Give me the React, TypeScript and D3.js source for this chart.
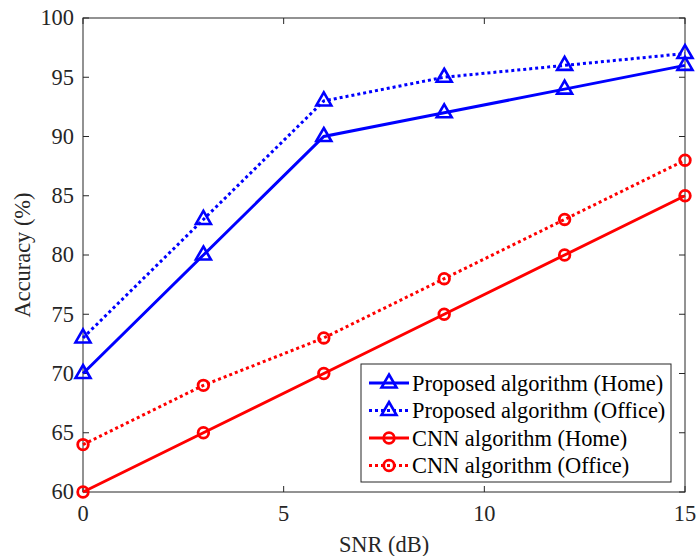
import React from 'react'
import * as d3 from 'd3'

const snr = [0, 3, 6, 9, 12, 15]
const proposedHome = [70, 80, 90, 92, 94, 96]
const proposedOffice = [73, 83, 93, 95, 96, 97]
const cnnHome = [60, 65, 70, 75, 80, 85]
const cnnOffice = [64, 69, 73, 78, 83, 88]
const xTicks = [0, 5, 10, 15]
const yTicks = [60, 65, 70, 75, 80, 85, 90, 95, 100]

const series = [
  { name: 'Proposed algorithm (Home)', values: proposedHome, color: '#0000ff', dotted: false, marker: 'tri' },
  { name: 'Proposed algorithm (Office)', values: proposedOffice, color: '#0000ff', dotted: true, marker: 'tri' },
  { name: 'CNN algorithm (Home)', values: cnnHome, color: '#ff0000', dotted: false, marker: 'circle' },
  { name: 'CNN algorithm (Office)', values: cnnOffice, color: '#ff0000', dotted: true, marker: 'circle' },
]

const W = 696
const H = 556
const margin = { top: 18, right: 11, bottom: 64, left: 83 }
const txt = { fontFamily: "'Liberation Serif', 'Times New Roman', Times, serif" }
const fs = 22.4

const Marker = ({ kind, x, y, color }: { kind: string; x: number; y: number; color: string }) => {
  if (kind === 'tri') {
    return (
      <path d={`M${x},${y - 8.5}L${x + 7.5},${y + 4.5}L${x - 7.5},${y + 4.5}Z`}
        fill="none" stroke={color} strokeWidth={2.6} strokeLinejoin="miter" />
    )
  }
  return <circle cx={x} cy={y} r={5.3} fill="none" stroke={color} strokeWidth={2.8} />
}

export default function App() {
  const x = d3.scaleLinear().domain([0, 15]).range([margin.left, W - margin.right])
  const y = d3.scaleLinear().domain([60, 100]).range([H - margin.bottom, margin.top])
  const line = d3.line<number>().x((_, i) => x(snr[i])).y((d) => y(d))

  const x0 = x(0), x1 = x(15), y0 = y(60), y1 = y(100)
  const tl = 6

  const lg = { x: 361, y: 364, w: 310, h: 118, row: 27.5 }

  return (
    <svg width={W} height={H} style={{ position: 'absolute', left: 0, top: 0, background: '#fff' }}>
      <rect x={0} y={0} width={W} height={H} fill="#fff" />
      {/* axes box */}
      <rect x={x0} y={y1} width={x1 - x0} height={y0 - y1} fill="none" stroke="#262626" strokeWidth={1} />
      {yTicks.map((t) => (
        <g key={'y' + t}>
          <line x1={x0} x2={x0 + tl} y1={y(t)} y2={y(t)} stroke="#262626" />
          <line x1={x1} x2={x1 - tl} y1={y(t)} y2={y(t)} stroke="#262626" />
          <text x={x0 - 9} y={y(t)} dy="0.33em" textAnchor="end" style={txt} fontSize={fs} fill="#262626">{t}</text>
        </g>
      ))}
      {xTicks.map((t) => (
        <g key={'x' + t}>
          <line x1={x(t)} x2={x(t)} y1={y0} y2={y0 - tl} stroke="#262626" />
          <line x1={x(t)} x2={x(t)} y1={y1} y2={y1 + tl} stroke="#262626" />
          <text x={x(t)} y={y0 + 29} textAnchor="middle" style={txt} fontSize={fs} fill="#262626">{t}</text>
        </g>
      ))}
      <text x={x((0 + 15) / 2)} y={552} textAnchor="middle" style={txt} fontSize={fs} fill="#262626">SNR (dB)</text>
      <text transform={`translate(30,${y(80)}) rotate(-90)`} textAnchor="middle" style={txt} fontSize={fs} fill="#262626">Accuracy (%)</text>

      {series.map((s) => (
        <g key={s.name}>
          <path d={line(s.values) || ''} fill="none" stroke={s.color} strokeWidth={3}
            strokeDasharray={s.dotted ? '3,3' : undefined} />
          {s.values.map((v, i) => (
            <Marker key={i} kind={s.marker} x={x(snr[i])} y={y(v)} color={s.color} />
          ))}
        </g>
      ))}

      {/* legend */}
      <rect x={lg.x} y={lg.y} width={lg.w} height={lg.h} fill="#fff" stroke="#262626" strokeWidth={1} />
      {series.map((s, i) => {
        const cy = lg.y + 19 + i * lg.row
        return (
          <g key={'lg' + i}>
            <line x1={lg.x + 8} x2={lg.x + 48} y1={cy} y2={cy} stroke={s.color} strokeWidth={3}
              strokeDasharray={s.dotted ? '3,3' : undefined} />
            <Marker kind={s.marker} x={lg.x + 28} y={cy} color={s.color} />
            <text x={lg.x + 51} y={cy} dy="0.35em" style={txt} fontSize={fs} fill="#000">{s.name}</text>
          </g>
        )
      })}
    </svg>
  )
}
